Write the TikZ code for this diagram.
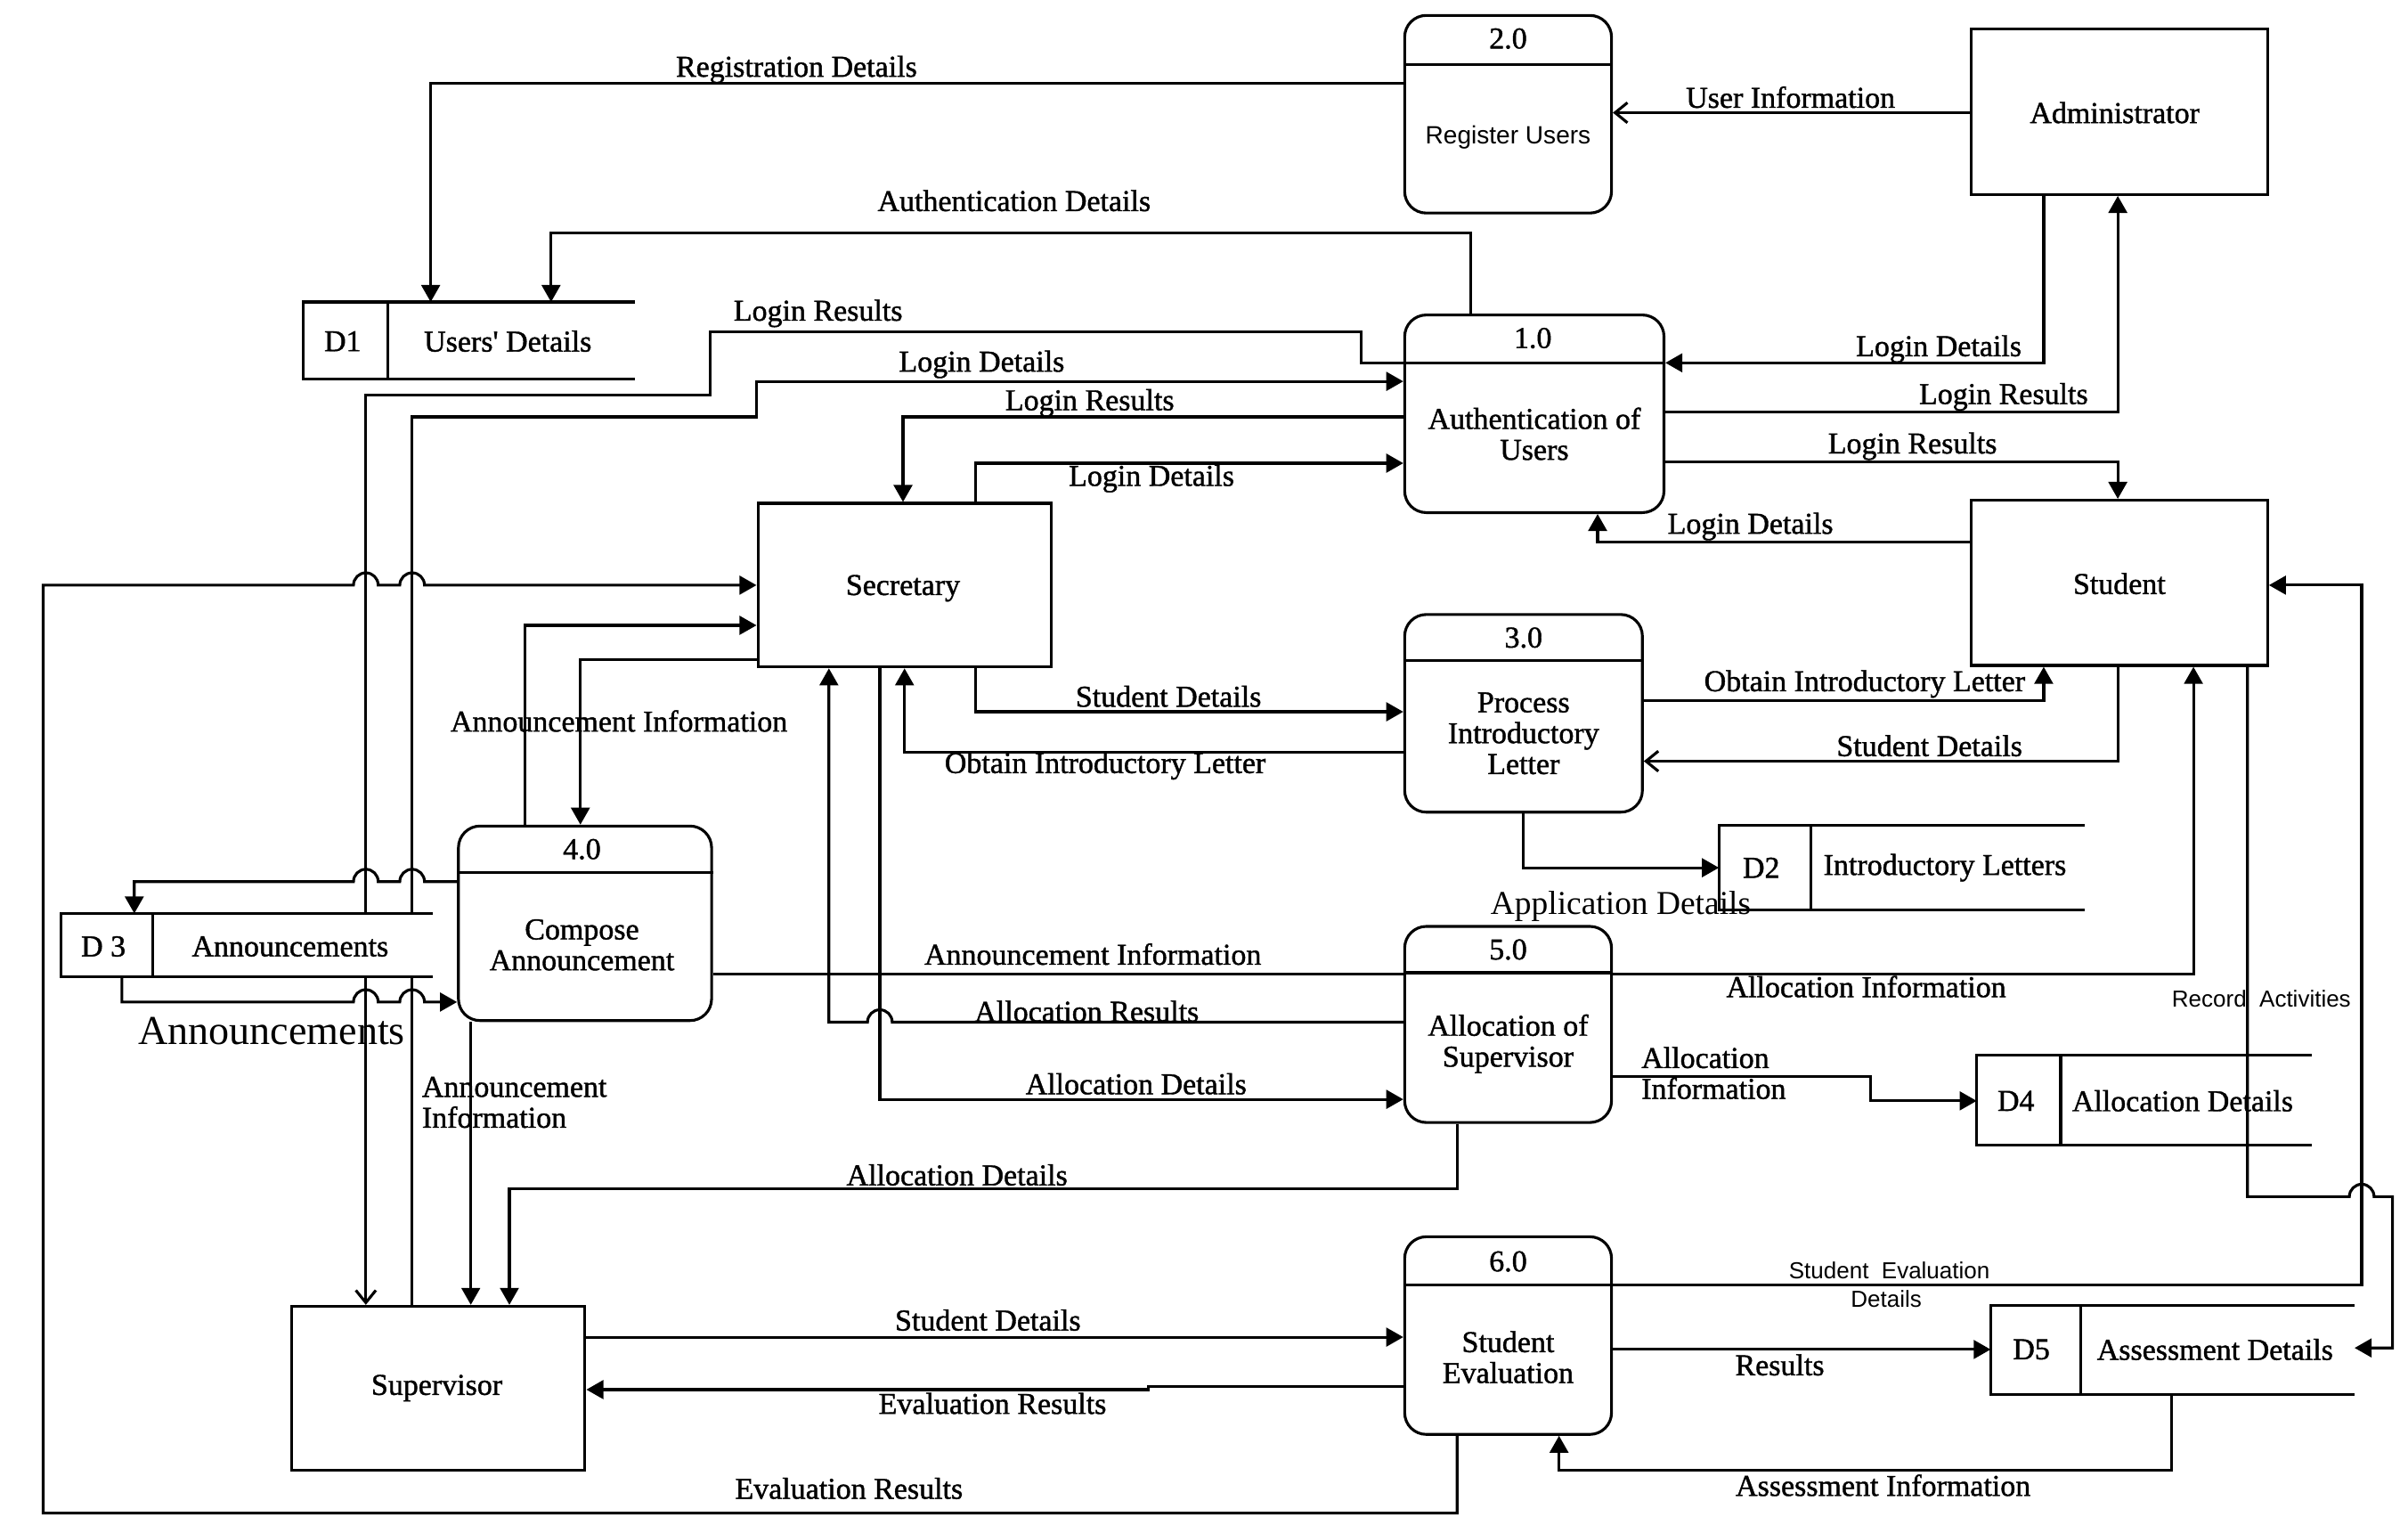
\documentclass[tikz,border=0pt]{standalone}
\usepackage{fontspec}
\setmainfont{Liberation Serif}
\newfontfamily\lblfont{Liberation Serif}[FakeBold=1.2]
\newfontfamily\sansfnt{Liberation Sans}
\usetikzlibrary{arrows.meta,fit}
\tikzset{
  lw/.style={line width=0.9pt},
  flow/.style={lw, -{Triangle[length=5.5pt,width=6pt]}},
  flowb/.style={lw, -{Straight Barb[length=4pt,width=6.5pt]}},
  conn/.style={lw},
  ent/.style={draw, lw, inner sep=0pt},
  proc/.style={draw, lw, rounded corners=7pt, inner sep=0pt},
  storebox/.style={inner sep=0pt},
  lbl/.style={font=\lblfont\fontsize{9.8}{10}\selectfont, inner sep=0pt, align=center},
  lbll/.style={font=\lblfont\fontsize{9.8}{10}\selectfont, inner sep=0pt, align=left},
  slbl/.style={font=\sansfnt\fontsize{8.1}{9}\selectfont, inner sep=0pt, align=center},
  sslbl/.style={font=\sansfnt\fontsize{7.5}{9}\selectfont, inner sep=0pt, align=center},
  biglbl/.style={font=\fontsize{10.8}{12}\selectfont, inner sep=0pt},
  hugelbl/.style={font=\fontsize{13.3}{15}\selectfont, inner sep=0pt}
}
\begin{document}
\begin{tikzpicture}[x=0.5pt,y=-0.5pt]
\useasboundingbox (0,0) rectangle (1560,982.5);

% ---------- external entities ----------
\node[ent, fit={(1277,19)(1469,126)}] (adm) {};
\node[lbl] (admt) at (1370,73) {Administrator};
\node[ent, fit={(1277,324)(1469,431)}] (stu) {};
\node[lbl] (stut) at (1373,378) {Student};
\node[ent, fit={(491,326)(681,432)}] (sec) {};
\node[lbl] (sect) at (585,381) {Secretary};
\node[ent, fit={(189,846)(379,952)}] (sup) {};
\node[lbl] (supt) at (283,899) {Supervisor};

% ---------- processes ----------
\node[proc, fit={(910,10)(1044,138)}] (p2) {};
\draw[lw] (p2.west |- 0,42) -- (p2.east |- 0,42);
\node[lbl] (p2n) at (977,25) {2.0};
\node[slbl] (p2t) at (977,89) {Register Users};

\node[proc, fit={(910,204)(1078,332)}] (p1) {};
\draw[lw] (p1.west |- 0,235) -- (p1.east |- 0,235);
\node[lbl] (p1n) at (993,219) {1.0};
\node[lbl] (p1t) at (994,281) {Authentication of\\Users};

\node[proc, fit={(910,398)(1064,526)}] (p3) {};
\draw[lw] (p3.west |- 0,428) -- (p3.east |- 0,428);
\node[lbl] (p3n) at (987,413) {3.0};
\node[lbl] (p3t) at (987,475) {Process\\Introductory\\Letter};

\node[proc, fit={(297,535)(461,661)}] (p4) {};
\draw[lw] (p4.west |- 0,565) -- (p4.east |- 0,565);
\node[lbl] (p4n) at (377,550) {4.0};
\node[lbl] (p4t) at (377,612) {Compose\\Announcement};

\node[proc, fit={(910,600)(1044,727)}] (p5) {};
\draw[lw] (p5.west |- 0,630) -- (p5.east |- 0,630);
\node[lbl] (p5n) at (977,615) {5.0};
\node[lbl] (p5t) at (977,676) {Allocation of\\Supervisor};

\node[proc, fit={(910,801)(1044,929)}] (p6) {};
\draw[lw] (p6.west |- 0,832) -- (p6.east |- 0,832);
\node[lbl] (p6n) at (977,817) {6.0};
\node[lbl] (p6t) at (977,879) {Student\\Evaluation};

% ---------- data store anchors ----------
\node[storebox, fit={(197,196)(411,245)}] (d1) {};
\node[storebox, fit={(1114,535)(1350,589)}] (d2) {};
\node[storebox, fit={(40,592)(280,632)}] (d3) {};
\node[storebox, fit={(1281,684)(1497,741)}] (d4) {};
\node[storebox, fit={(1290,846)(1525,903)}] (d5) {};

% ---------- flows ----------
\draw[flow] (p2.west |- 0,54) -| (d1.north -| 279,0);
\draw[flowb] (adm.west |- 0,73) -- (p2.east |- 0,73);
\draw[flow] (p1.north -| 953,0) -- (953,151) -| (d1.north -| 357,0);
\draw[flowb] (p1.west |- 0,235) -- (882,235) -- (882,215) -- (460,215) -- (460,256) -- (237,256) -- (sup.north -| 237,0);
\draw[flow] (sup.north -| 267,0) -- (267,270) -- (490,270) -- (490,247) -- (p1.west |- 0,247);
\draw[flow] (p1.west |- 0,270) -| (sec.north -| 585,0);
\draw[flow] (sec.north -| 632,0) |- (p1.west |- 0,300);
\draw[flow] (adm.south -| 1324,0) |- (p1.east |- 0,235);
\draw[flow] (p1.east |- 0,267) -| (adm.south -| 1372,0);
\draw[flow] (p1.east |- 0,299) -| (stu.north -| 1372,0);
\draw[flow] (stu.west |- 0,351) -| (p1.south -| 1035,0);
\draw[flow] (sec.south -| 632,0) |- (p3.west |- 0,461);
\draw[flow] (p3.west |- 0,487) -| (sec.south -| 586,0);
\draw[flow] (p3.east |- 0,454) -| (stu.south -| 1324,0);
\draw[flowb] (stu.south -| 1372,0) |- (p3.east |- 0,493);
\draw[flow] (p3.south -| 987,0) |- (d2.west |- 0,562);
\draw[flow] (sec.west |- 0,427) -| (p4.north -| 376,0);
\draw[flow] (p4.north -| 340,0) |- (sec.west |- 0,405);
\draw[flow] (p6.south -| 944,0) -- (944,980) -- (28,980) -- (28,379) -- (229,379)
   arc[start angle=180,end angle=0,radius=4pt] -- (259,379)
   arc[start angle=180,end angle=0,radius=4pt] -- (sec.west |- 0,379);
\draw[conn] (p4.east |- 0,631) -- (p5.west |- 0,631);
\draw[flow] (p5.east |- 0,631) -| (stu.south -| 1421,0);
\draw[flow] (p5.west |- 0,662) -- (578,662)
   arc[start angle=0,end angle=180,radius=4pt] -- (537,662) -- (sec.south -| 537,0);
\draw[flow] (sec.south -| 570,0) |- (p5.west |- 0,712);
\draw[flow] (p5.south -| 944,0) |- (330,770) -- (sup.north -| 330,0);
\draw[flow] (p5.east |- 0,697) -- (1212,697) -- (1212,713) -- (d4.west |- 0,713);
\draw[flow] (stu.south -| 1456,0) -- (1456,775) -- (1522,775)
   arc[start angle=180,end angle=0,radius=4pt] -- (1550,775) -- (1550,873) -- (d5.east |- 0,873);
\draw[flow] (p6.east |- 0,832) -- (1530,832) -- (1530,379) -- (stu.east |- 0,379);
\draw[flow] (p6.east |- 0,874) -- (d5.west |- 0,874);
\draw[flow] (d5.south -| 1407,0) |- (1010,952) -- (p6.south -| 1010,0);
\draw[flow] (sup.east |- 0,866) -- (p6.west |- 0,866);
\draw[flow] (p6.west |- 0,898) -- (744,898) -- (744,900) -- (sup.east |- 0,900);
\draw[flow] (p4.west |- 0,571) -- (275,571)
   arc[start angle=0,end angle=180,radius=4pt] -- (245,571)
   arc[start angle=0,end angle=180,radius=4pt] -- (87,571) -- (d3.north -| 87,0);
\draw[flow] (d3.south -| 79,0) -- (79,649) -- (229,649)
   arc[start angle=180,end angle=0,radius=4pt] -- (259,649)
   arc[start angle=180,end angle=0,radius=4pt] -- (p4.west |- 0,649);
\draw[flow] (p4.south -| 305,0) -- (sup.north -| 305,0);

% ---------- data stores ----------
\draw[lw] (d1.north east) -- (d1.north west) -- (d1.south west) -- (d1.south east);
\draw[lw] (d1.north -| 251,0) -- (d1.south -| 251,0);
\node[lbl] (d1i) at (222,221) {D1};
\node[lbl] (d1t) at (329,221) {Users' Details};

\draw[lw] (d2.north east) -- (d2.north west) -- (d2.south west) -- (d2.south east);
\draw[lw] (d2.north -| 1173,0) -- (d2.south -| 1173,0);
\node[lbl] (d2i) at (1141,562) {D2};
\node[lbl] (d2t) at (1260,562) {Introductory Letters};

\fill[white] (d3.north west) rectangle (d3.south east);
\draw[lw] (d3.north east) -- (d3.north west) -- (d3.south west) -- (d3.south east);
\draw[lw] (d3.north -| 99,0) -- (d3.south -| 99,0);
\node[lbl] (d3i) at (67,613) {D 3};
\node[lbl] (d3t) at (188,613) {Announcements};

\draw[lw] (d4.north east) -- (d4.north west) -- (d4.south west) -- (d4.south east);
\draw[lw] (d4.north -| 1335,0) -- (d4.south -| 1335,0);
\node[lbl] (d4i) at (1306,713) {D4};
\node[lbl] (d4t) at (1414,713) {Allocation Details};

\draw[lw] (d5.north east) -- (d5.north west) -- (d5.south west) -- (d5.south east);
\draw[lw] (d5.north -| 1348,0) -- (d5.south -| 1348,0);
\node[lbl] (d5i) at (1316,874) {D5};
\node[lbl] (d5t) at (1435,874) {Assessment Details};

% ---------- flow labels ----------
\node[lbl] (l1) at (516,45) {Registration Details};
\node[lbl] (l2) at (1160,63) {User Information};
\node[lbl] (l3) at (657,130) {Authentication Details};
\node[lbl] (l4) at (530,203) {Login Results};
\node[lbl] (l5) at (636,236) {Login Details};
\node[lbl] (l6) at (706,261) {Login Results};
\node[lbl] (l7) at (746,310) {Login Details};
\node[lbl] (l8) at (1256,226) {Login Details};
\node[lbl] (l9) at (1298,257) {Login Results};
\node[lbl] (l10) at (1239,289) {Login Results};
\node[lbl] (l11) at (1134,341) {Login Details};
\node[lbl] (l12) at (757,451) {Student Details};
\node[lbl] (l13) at (716,496) {Obtain Introductory Letter};
\node[lbl] (l14) at (1208,443) {Obtain Introductory Letter};
\node[lbl] (l15) at (1250,483) {Student Details};
\node[lbl] (l16) at (401,467) {Announcement Information};
\node[biglbl] (l17) at (1050,587) {Application Details};
\node[lbl] (l18) at (708,618) {Announcement Information};
\node[lbl] (l19) at (1209,639) {Allocation Information};
\node[hugelbl] (l20) at (176,668) {Announcements};
\node[lbl] (l21) at (704,655) {Allocation Results};
\node[lbll, anchor=west] (l22) at (273,714) {Announcement\\Information};
\node[lbl] (l23) at (736,702) {Allocation Details};
\node[lbll, anchor=west] (l24) at (1063,695) {Allocation\\Information};
\node[sslbl] (l25) at (1465,647) {Record\ \ Activities};
\node[lbl] (l26) at (620,761) {Allocation Details};
\node[sslbl] (l27) at (1224,823) {Student\ \ Evaluation};
\node[sslbl] (l28) at (1222,841) {Details};
\node[lbl] (l29) at (640,855) {Student Details};
\node[lbl] (l30) at (1153,884) {Results};
\node[lbl] (l31) at (643,909) {Evaluation Results};
\node[lbl] (l32) at (550,964) {Evaluation Results};
\node[lbl] (l33) at (1220,962) {Assessment Information};
\end{tikzpicture}
\end{document}
